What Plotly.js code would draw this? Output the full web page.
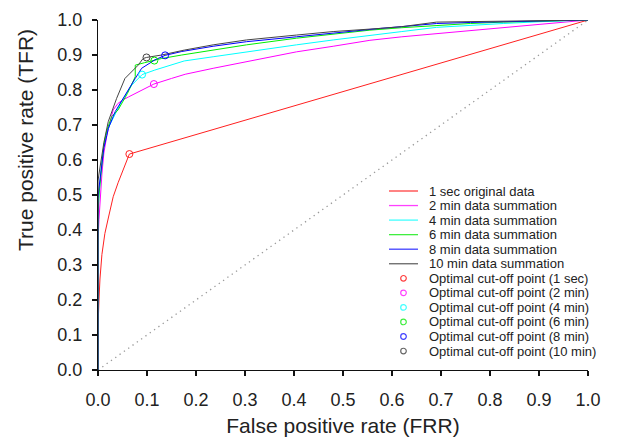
<!DOCTYPE html>
<html>
<head>
<meta charset="utf-8">
<script src="https://cdn.plot.ly/plotly-3.0.1.min.js"></script>
<style>html,body{margin:0;padding:0;background:#fff;}#chart{width:623px;height:439px;}</style>
</head>
<body>
<div id="chart"></div>
<script>
// ---- data ----
const seriesNames = ["1 sec original data", "2 min data summation", "4 min data summation",
  "6 min data summation", "8 min data summation", "10 min data summation"];
const optNames = ["Optimal cut-off point (1 sec)", "Optimal cut-off point (2 min)", "Optimal cut-off point (4 min)",
  "Optimal cut-off point (6 min)", "Optimal cut-off point (8 min)", "Optimal cut-off point (10 min)"];

const fpr1s = [0, 0, 0.002, 0.004, 0.008, 0.014, 0.022, 0.031, 0.041, 0.051, 0.064, 1];
const tpr1s = [0, 0.12, 0.20, 0.26, 0.33, 0.39, 0.44, 0.495, 0.535, 0.571, 0.617, 1];

const fpr2m = [0, 0, 0.002, 0.005, 0.008, 0.012, 0.018, 0.024, 0.031, 0.041, 0.051, 0.062, 0.089, 0.114, 0.15, 0.178, 0.235, 0.303, 0.405, 0.48, 0.555, 0.62, 0.691, 0.76, 0.827, 0.936, 1];
const tpr2m = [0, 0.37, 0.43, 0.50, 0.56, 0.62, 0.67, 0.705, 0.743, 0.762, 0.772, 0.78, 0.80, 0.817, 0.833, 0.845, 0.862, 0.881, 0.909, 0.925, 0.942, 0.952, 0.961, 0.971, 0.98, 0.994, 1];

const fpr4m = [0, 0, 0.002, 0.005, 0.008, 0.012, 0.018, 0.024, 0.035, 0.048, 0.069, 0.09, 0.116, 0.15, 0.176, 0.235, 0.303, 0.405, 0.48, 0.555, 0.62, 0.691, 0.76, 0.827, 0.9, 1];
const tpr4m = [0, 0.45, 0.50, 0.55, 0.60, 0.64, 0.68, 0.70, 0.73, 0.767, 0.814, 0.844, 0.857, 0.871, 0.883, 0.895, 0.909, 0.929, 0.943, 0.955, 0.967, 0.979, 0.985, 0.99, 0.995, 1];

const fpr6m = [0, 0, 0.002, 0.005, 0.008, 0.012, 0.018, 0.028, 0.041, 0.06, 0.076, 0.076, 0.095, 0.115, 0.13, 0.171, 0.235, 0.303, 0.405, 0.48, 0.555, 0.62, 0.691, 0.76, 0.827, 0.936, 1];
const tpr6m = [0, 0.44, 0.50, 0.55, 0.60, 0.645, 0.685, 0.724, 0.743, 0.79, 0.838, 0.871, 0.878, 0.884, 0.89, 0.90, 0.915, 0.929, 0.948, 0.96, 0.971, 0.978, 0.985, 0.99, 0.994, 0.999, 1];

const fpr8m = [0, 0, 0.002, 0.005, 0.008, 0.012, 0.018, 0.021, 0.035, 0.055, 0.076, 0.089, 0.116, 0.137, 0.171, 0.235, 0.303, 0.405, 0.48, 0.576, 0.62, 0.691, 0.76, 0.827, 0.936, 1];
const tpr8m = [0, 0.49, 0.52, 0.56, 0.60, 0.635, 0.67, 0.69, 0.738, 0.786, 0.833, 0.862, 0.886, 0.899, 0.91, 0.925, 0.938, 0.952, 0.963, 0.976, 0.981, 0.99, 0.993, 0.995, 0.998, 1];

const fpr10m = [0, 0, 0.002, 0.005, 0.008, 0.012, 0.021, 0.038, 0.055, 0.069, 0.082, 0.092, 0.099, 0.13, 0.176, 0.235, 0.303, 0.405, 0.48, 0.576, 0.62, 0.691, 0.76, 0.827, 0.936, 1];
const tpr10m = [0, 0.54, 0.56, 0.59, 0.62, 0.65, 0.71, 0.776, 0.833, 0.852, 0.871, 0.89, 0.893, 0.90, 0.914, 0.929, 0.943, 0.957, 0.967, 0.976, 0.981, 0.994, 0.995, 0.997, 0.998, 1];

const optFpr = [0.064, 0.114, 0.090, 0.115, 0.137, 0.099];
const optTpr = [0.617, 0.817, 0.844, 0.884, 0.899, 0.893];

const chanceX = [0, 1];
const chanceY = [0, 1];

const tickVals = [0, 0.1, 0.2, 0.3, 0.4, 0.5, 0.6, 0.7, 0.8, 0.9, 1.0];
const tickText = ["0.0", "0.1", "0.2", "0.3", "0.4", "0.5", "0.6", "0.7", "0.8", "0.9", "1.0"];

// ---- styles ----
const colors = ["#ff2020", "#ff00ff", "#00ffff", "#00ee00", "#0000ff", "#444444"];
const legendColors = ["#ff4040", "#ff40ff", "#40ffff", "#40ee40", "#4040ff", "#666666"];
const FONT = "Liberation Sans, Arial, sans-serif";

const xs = [fpr1s, fpr2m, fpr4m, fpr6m, fpr8m, fpr10m];
const ys = [tpr1s, tpr2m, tpr4m, tpr6m, tpr8m, tpr10m];

const traces = [];
traces.push({x: chanceX, y: chanceY, mode: "lines", line: {color: "#999999", width: 1.3, dash: "1.3px,4px"}, showlegend: false, hoverinfo: "skip"});
for (let i = 0; i < 6; i++) {
  traces.push({x: xs[i], y: ys[i], mode: "lines", name: seriesNames[i], line: {color: colors[i], width: 1}, showlegend: false});
}
for (let i = 0; i < 6; i++) {
  traces.push({x: [optFpr[i]], y: [optTpr[i]], mode: "markers", name: optNames[i],
    marker: {symbol: "circle-open", size: 7, color: colors[i], line: {width: 1, color: colors[i]}}, showlegend: false});
}

// ---- custom legend (paper coordinates; axes span 0..1 so paper == data) ----
const L = 98, T = 20, W = 490, H = 350;
const px = v => (v - L) / W;
const py = v => (T + H - v) / H;
const rowTop = 191, rowGap = 14.55;
const legendLabels = seriesNames.concat(optNames);
const shapes = [];
const annotations = [];
legendLabels.forEach((lab, k) => {
  const yy = py(rowTop + k * rowGap);
  annotations.push({xref: "paper", yref: "paper", x: px(428), y: yy, xanchor: "left", yanchor: "middle",
    text: lab, showarrow: false, font: {family: FONT, size: 13, color: "#222"}, borderpad: 0});
  if (k < 6) {
    shapes.push({type: "line", xref: "paper", yref: "paper", x0: px(389), x1: px(418), y0: yy, y1: yy,
      line: {color: legendColors[k], width: 1.3}});
  } else {
    shapes.push({type: "circle", xref: "paper", yref: "paper", xsizemode: "pixel", ysizemode: "pixel",
      xanchor: px(403.5), yanchor: yy, x0: -2.8, x1: 2.8, y0: -2.8, y1: 2.8,
      line: {color: legendColors[k - 6], width: 1.2}});
  }
});
annotations.push({xref: "paper", yref: "paper", x: px(25), y: py(140), xanchor: "center", yanchor: "middle",
  text: "True positive rate (TFR)", textangle: -90, showarrow: false, font: {family: FONT, size: 21, color: "#222"}});

const axisCommon = {
  range: [0, 1], showgrid: false, zeroline: false, showline: true, linecolor: "#111", linewidth: 1.2,
  ticks: "outside", ticklen: 5, tickwidth: 1.2, tickcolor: "#111", tickvals: tickVals, ticktext: tickText,
  tickfont: {family: FONT, size: 18, color: "#222"}, fixedrange: true
};

const layout = {
  width: 623, height: 439,
  margin: {l: L, r: 623 - L - W, t: T, b: 439 - T - H},
  paper_bgcolor: "#fff", plot_bgcolor: "#fff",
  showlegend: false,
  xaxis: Object.assign({}, axisCommon, {ticklabelstandoff: 8,
    title: {text: "False positive rate (FRR)", font: {family: FONT, size: 21, color: "#222"}, standoff: 9}}),
  yaxis: Object.assign({}, axisCommon, {ticklabelstandoff: 6}),
  shapes: shapes,
  annotations: annotations
};

Plotly.newPlot("chart", traces, layout, {staticPlot: true, displayModeBar: false});
</script>
</body>
</html>
